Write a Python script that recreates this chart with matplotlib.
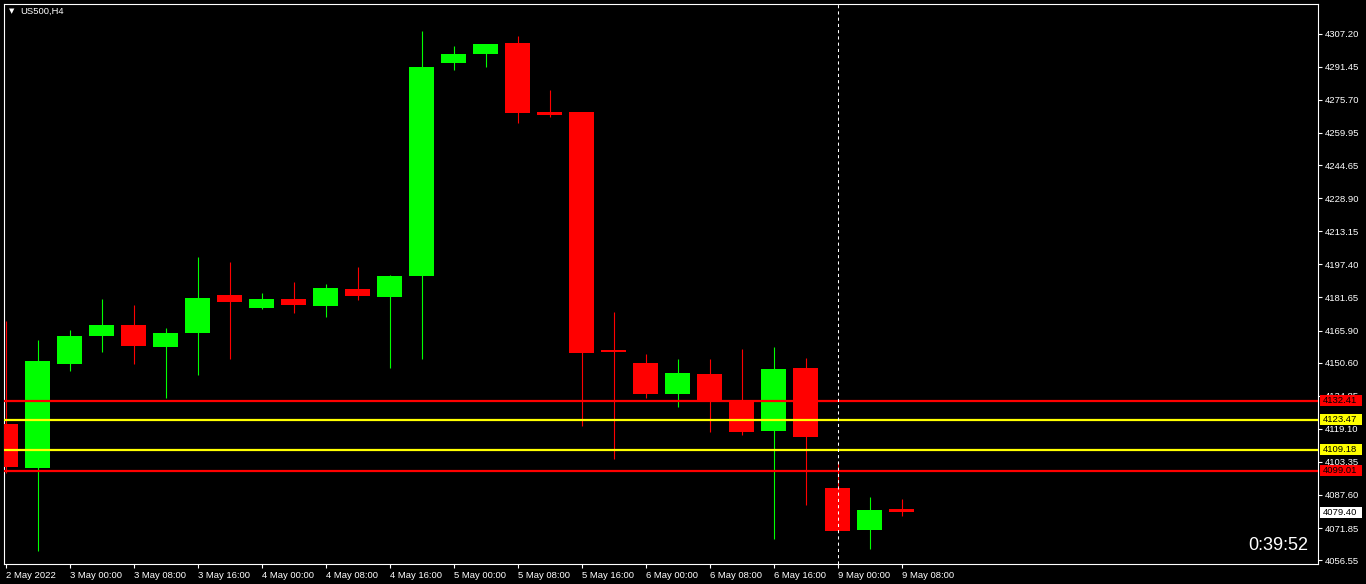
import matplotlib
matplotlib.use("Agg")
import matplotlib.pyplot as plt
from matplotlib.patches import Rectangle
from matplotlib.transforms import blended_transform_factory

# ---- data (US500, H4) ----
opens = [4121.33, 4100.54, 4150.01, 4163.33, 4168.42, 4157.96, 4164.76, 4182.69, 4176.65, 4180.79,
         4177.60, 4185.55, 4181.88, 4191.87, 4293.20, 4297.48, 4302.57, 4269.74, 4269.74, 4156.05,
         4150.34, 4135.74, 4145.11, 4132.41, 4118.14, 4147.97, 4090.88, 4071.04, 4080.89]
highs = [4170.32, 4161.28, 4166.04, 4180.79, 4177.93, 4166.99, 4200.77, 4198.39, 4183.64, 4188.88,
         4187.92, 4196.01, 4192.10, 4308.28, 4301.14, 4302.30, 4305.90, 4280.21, 4270.00, 4174.60,
         4154.63, 4152.25, 4152.25, 4157.00, 4157.96, 4152.72, 4103.25, 4086.60, 4085.65]
lows = [4098.02, 4061.05, 4146.68, 4155.72, 4150.01, 4133.84, 4144.78, 4152.39, 4176.17, 4174.27,
        4172.37, 4180.46, 4148.11, 4152.39, 4289.87, 4291.29, 4264.65, 4267.51, 4120.52, 4104.82,
        4133.84, 4129.56, 4117.66, 4116.24, 4066.76, 4082.94, 4070.30, 4062.01, 4077.70]
closes = [4101.01, 4151.30, 4163.19, 4168.42, 4158.57, 4164.61, 4181.26, 4179.50, 4180.79, 4178.08,
          4186.02, 4182.36, 4191.73, 4291.15, 4297.34, 4302.09, 4269.41, 4268.46, 4155.24, 4155.72,
          4135.74, 4145.59, 4132.41, 4117.66, 4147.49, 4115.28, 4070.57, 4080.42, 4079.40]

time_tick_idx = [0, 2, 4, 6, 8, 10, 12, 14, 16, 18, 20, 22, 24, 26, 28]
time_tick_labels = ["2 May 2022", "3 May 00:00", "3 May 08:00", "3 May 16:00", "4 May 00:00",
                    "4 May 08:00", "4 May 16:00", "5 May 00:00", "5 May 08:00", "5 May 16:00",
                    "6 May 00:00", "6 May 08:00", "6 May 16:00", "9 May 00:00", "9 May 08:00"]
price_ticks = [4307.20, 4291.45, 4275.70, 4259.95, 4244.65, 4228.90, 4213.15, 4197.40, 4181.65,
               4165.90, 4150.60, 4134.85, 4119.10, 4103.35, 4087.60, 4071.85, 4056.55]
level_prices = [4132.41, 4123.47, 4109.18, 4099.01]
level_colors = ["#ff0000", "#ffff00", "#ffff00", "#ff0000"]
current_price = 4079.40
separator_idx = 26
title = "US500,H4"
timer_text = "0:39:52"

BULL = "#00ff00"
BEAR = "#ff0000"
FONT = "Liberation Sans"
FS = 6.8

W, H = 1366, 584
fig = plt.figure(figsize=(W / 100, H / 100), dpi=100, facecolor="black")
left_px, right_px, top_px, bot_px = 3.5, 1318, 3.5, 564
ax = fig.add_axes([left_px / W, 1 - bot_px / H, (right_px - left_px) / W, (bot_px - top_px) / H])
ax.set_facecolor("black")

n = len(opens)
xs = list(range(n))
body_w = 25 / 32
for i in xs:
    o, h, l, c = opens[i], highs[i], lows[i], closes[i]
    col = BULL if c > o else BEAR
    ax.vlines(i, l, h, color=col, linewidth=0.8, zorder=2)
    lo, hi = min(o, c), max(o, c)
    height = max(hi - lo, 0.9)
    ax.bar(i, height, bottom=lo, width=body_w, color=col, linewidth=0, zorder=3)

for p, col in zip(level_prices, level_colors):
    ax.axhline(p, color=col, linewidth=1.6, zorder=4)

ax.axvline(separator_idx, color="white", linewidth=0.75, linestyle=(0, (3, 3)), zorder=5)

ax.set_xlim((left_px - 5.5) / 32, (right_px - 5.5) / 32)
ax.set_ylim(4054.73, 4321.60)

for s in ax.spines.values():
    s.set_color("white")
    s.set_linewidth(0.8)

ax.yaxis.tick_right()
ax.set_yticks(price_ticks)
ax.set_yticklabels([f"{v:.2f}" for v in price_ticks])
ax.set_xticks(time_tick_idx)
ax.set_xticklabels(time_tick_labels)
ax.tick_params(axis="both", colors="white", direction="out", length=3, width=0.8,
               labelsize=FS, pad=2)
for lab in ax.get_xticklabels():
    lab.set_horizontalalignment("left")
    lab.set_fontfamily(FONT)
for lab in ax.get_yticklabels():
    lab.set_fontfamily(FONT)
ax.tick_params(axis="y", pad=2)

# price labels on the axis
trans = blended_transform_factory(ax.transAxes, ax.transData)
ax_w = right_px - left_px
x0 = (1320 - left_px) / ax_w
x1 = (1362 - left_px) / ax_w
px_unit = (4321.60 - 4054.73) / (bot_px - top_px)
box_h = 11 * px_unit
for p, col in list(zip(level_prices, level_colors)) + [(current_price, "#ffffff")]:
    ax.add_patch(Rectangle((x0, p - box_h / 2), x1 - x0, box_h, transform=trans,
                           facecolor=col, edgecolor="none", clip_on=False, zorder=10))
    ax.text((1323 - left_px) / ax_w, p, f"{p:.2f}", transform=trans, color="black",
            fontsize=FS, family=FONT, ha="left", va="center", clip_on=False, zorder=11)

# title and timer
fig.text(12 / W, 1 - 11 / H, "▼", color="white", fontsize=5, ha="center", va="center",
         family="DejaVu Sans")
fig.text(20 / W, 1 - 11.5 / H, title, color="white", fontsize=FS, family=FONT,
         ha="left", va="center")
fig.text(1308 / W, 1 - 545 / H, timer_text, color="white", fontsize=13, family=FONT,
         ha="right", va="center")

fig.savefig("out.png", dpi=100, facecolor="black")
